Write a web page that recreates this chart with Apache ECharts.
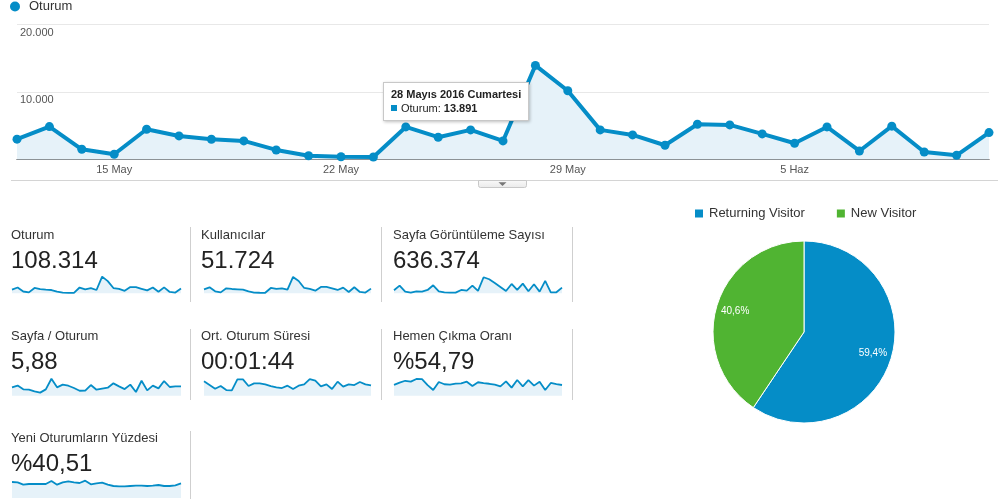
<!DOCTYPE html>
<html><head><meta charset="utf-8">
<script src="https://cdn.jsdelivr.net/npm/echarts@6/dist/echarts.min.js"></script>
<style>html,body{margin:0;padding:0;background:#fff}#c{width:999px;height:499px}</style>
</head><body><div id="c"></div><script>
// ---------- data ----------
const dates = ['12 May','13 May','14 May','15 May','16 May','17 May','18 May','19 May','20 May','21 May','22 May','23 May','24 May','25 May','26 May','27 May','28 May','29 May','30 May','31 May','1 Haz','2 Haz','3 Haz','4 Haz','5 Haz','6 Haz','7 Haz','8 Haz','9 Haz','10 Haz','11 Haz'];
const oturum = [3000,4860,1510,770,4470,3480,2990,2740,1410,560,410,370,4810,3290,4370,2740,13891,10150,4370,3630,2100,5210,5110,3780,2400,4810,1260,4920,1110,620,3970];
const kullanicilar = [2220,3330,1110,520,2780,2400,2220,2040,1100,420,300,280,2960,2400,2780,2040,9070,6850,2960,2400,1480,3520,3520,2780,1850,3150,740,3330,740,400,2590];
const sayfaGoruntuleme = [12540,32040,6970,2790,8360,6970,13930,33430,8360,4180,2790,2790,13930,11140,32040,9750,66860,58510,43180,26470,9750,39000,13930,40400,8360,37610,6970,51540,4180,4180,23680];
const sayfaOturum = [6.02,7.05,4.81,4.63,3.58,2.84,4.79,11.19,6.01,7.62,6.98,5.63,3.97,4.02,7.41,4.58,5.21,5.80,8.42,6.61,4.98,7.63,3.22,9.97,4.18,7.03,5.39,9.81,6.22,6.58,6.60];
const ortOturumSuresi = [139,106,73,97,61,58,157,157,97,121,121,112,97,85,79,100,70,100,112,160,145,94,112,70,136,91,112,106,133,112,103];
const hemenCikmaOrani = [52.3,59.1,64.8,62.2,70.1,69.7,51.8,37.2,61.0,54.3,53.1,56.2,57.0,62.1,49.2,60.3,58.0,55.8,53.2,48.1,63.0,44.2,67.1,48.0,66.8,50.2,61.9,37.1,58.2,55.0,52.1];
const yeniOturumYuzdesi = [46.8,45.8,39.0,41.0,41.0,41.0,41.0,49.7,39.0,45.8,48.8,45.8,43.9,50.7,40.0,42.9,44.9,39.0,35.1,34.1,34.1,35.1,36.1,36.1,35.1,36.1,38.0,35.1,35.1,37.1,42.9];
const metricNames = ['Oturum','Kullanıcılar','Sayfa Görüntüleme Sayısı','Sayfa / Oturum','Ort. Oturum Süresi','Hemen Çıkma Oranı','Yeni Oturumların Yüzdesi'];
const metricTotals = ['108.314','51.724','636.374','5,88','00:01:44','%54,79','%40,51'];
const sparkData = [oturum, kullanicilar, sayfaGoruntuleme, sayfaOturum, ortOturumSuresi, hemenCikmaOrani, yeniOturumYuzdesi];
const visitorTypes = ['Returning Visitor','New Visitor'];
const visitorShares = [59.4, 40.6];
const shareLabels = ['59,4%','40,6%'];
const tipTitle = '28 Mayıs 2016 Cumartesi';
const tipIndex = 16;

// ---------- layout / style ----------
const FONT = 'Arial, "Liberation Sans", sans-serif';
const BLUE = '#058dc7', GREEN = '#50b432', FILL = '#e6f2f9';
const sparkRanges = [[0,15000],[0,10000],[0,75000],[1,11.8],[10,172],[20,74],[0,52.65]];
const colText = [11, 201, 393];
const colSpark = [[12,169],[204,167],[394,168]];
const rowBase = [293.3, 395.7, 498];
const rowLabelMid = [235, 336.5, 438.2];
const rowValueMid = [261, 362.4, 464.7];

const fmt = v => String(v).replace(/\B(?=(\d{3})+(?!\d))/g, '.');

const grids = [{left:17, right:10, top:24, height:135.5}];
const xAxes = [{
  type:'category', data:dates, boundaryGap:false, gridIndex:0,
  axisLine:{lineStyle:{color:'#333', width:1}}, axisTick:{show:false},
  axisLabel:{color:'#555', fontSize:11, fontFamily:FONT, margin:5,
    interval:(i)=> i>=3 && (i-3)%7===0}
}];
const yAxes = [{
  type:'value', gridIndex:0, min:0, max:20000, interval:10000,
  axisLine:{show:false}, axisTick:{show:false},
  splitLine:{lineStyle:{color:'#e8e8e8'}},
  axisLabel:{inside:true, showMinLabel:false, margin:3, color:'#555', fontSize:11, fontFamily:FONT,
    verticalAlign:'top', padding:[3,0,0,0], formatter:v=>fmt(v)}
}];
const series = [{
  name:'Oturum', type:'line', xAxisIndex:0, yAxisIndex:0, data:oturum,
  symbol:'circle', symbolSize:9, showAllSymbol:true,
  lineStyle:{color:BLUE, width:4}, itemStyle:{color:BLUE},
  areaStyle:{color:FILL, opacity:1, origin:'start'}, z:3
}];
const graphics = [];

sparkData.forEach((d, k) => {
  const row = Math.floor(k/3), col = k%3;
  const [left, width] = colSpark[col];
  const gi = k+1;
  grids.push({left:left, width:width, top:rowBase[row]-18, height:18});
  xAxes.push({type:'category', data:dates, boundaryGap:false, gridIndex:gi, show:false});
  yAxes.push({type:'value', gridIndex:gi, min:sparkRanges[k][0], max:sparkRanges[k][1], show:false});
  series.push({
    name:'spark'+k, type:'line', xAxisIndex:gi, yAxisIndex:gi, data:d, symbol:'none',
    lineStyle:{color:BLUE, width:1.8}, areaStyle:{color:FILL, opacity:1, origin:'start'},
    tooltip:{show:false}, silent:true
  });
  graphics.push({type:'text', x:colText[col], y:rowLabelMid[row],
    style:{text:metricNames[k], fill:'#333', fontSize:13, fontFamily:FONT, align:'left', verticalAlign:'middle'}});
  graphics.push({type:'text', x:colText[col], y:rowValueMid[row],
    style:{text:metricTotals[k], fill:'#222', fontSize:24, fontFamily:FONT, align:'left', verticalAlign:'middle'}});
});

// dividers
[[190.5,227,302],[381.5,227,302],[572.5,227,302],[190.5,329,400],[381.5,329,400],[572.5,329,400],[190.5,431,499]]
  .forEach(([x,y1,y2]) => graphics.push({type:'line', shape:{x1:x,y1:y1,x2:x,y2:y2}, style:{stroke:'#cfcfcf', lineWidth:1}}));
// separator + tab
graphics.push({type:'line', shape:{x1:11,y1:180.5,x2:998,y2:180.5}, style:{stroke:'#d4d4d4', lineWidth:1}});
graphics.push({type:'rect', shape:{x:478.5,y:180.5,width:48,height:7, r:[0,0,2,2]},
  style:{fill:new echarts.graphic.LinearGradient(0,0,0,1,[{offset:0,color:'#fafafa'},{offset:1,color:'#e9e9e9'}]), stroke:'#c8c8c8', lineWidth:1}});
graphics.push({type:'polygon', shape:{points:[[498.5,182.3],[506.5,182.3],[502.5,186]]}, style:{fill:'#777'}});

// pie
series.push({
  name:'Ziyaretçi', type:'pie', center:[804,332], radius:[0,91], startAngle:90, clockwise:true,
  data: visitorTypes.map((n,i)=>({name:n, value:visitorShares[i], itemStyle:{color:[BLUE,GREEN][i]}})),
  label:{show:false}, labelLine:{show:false}, itemStyle:{borderColor:'#fff', borderWidth:1},
  tooltip:{show:false}, silent:true
});
series.push({
  name:'ZiyaretçiEtiket', type:'pie', center:[804,332], radius:[47,91], startAngle:90, clockwise:true,
  data: visitorTypes.map((n,i)=>({name:n, value:visitorShares[i]})),
  itemStyle:{color:'rgba(0,0,0,0)'}, legendHoverLink:false,
  label:{show:true, position:'inside', color:'#fff', fontSize:10, fontFamily:FONT,
    formatter:p=>shareLabels[p.dataIndex]},
  labelLine:{show:false}, tooltip:{show:false}, silent:true, emphasis:{disabled:true}
});

const chart = echarts.init(document.getElementById('c'), null, {renderer:'canvas'});
chart.setOption({
  animation:false,
  textStyle:{fontFamily:FONT},
  grid:grids, xAxis:xAxes, yAxis:yAxes, series:series, graphic:graphics,
  legend:[
    {data:['Oturum'], left:10, top:0, padding:0, icon:'circle', itemWidth:10, itemHeight:10,
     textStyle:{color:'#333', fontSize:13, fontFamily:FONT, padding:[0,0,0,4]}, selectedMode:false},
    {data:visitorTypes, left:693, top:207, padding:0, icon:'rect', itemWidth:10, itemHeight:10, itemGap:30,
     textStyle:{color:'#333', fontSize:13, fontFamily:FONT}, selectedMode:false}
  ],
  tooltip:{
    trigger:'item', triggerOn:'none', alwaysShowContent:true, transitionDuration:0,
    position:[383,82], backgroundColor:'#fff', borderColor:'#c8c8c8', borderWidth:1, padding:[5,7],
    extraCssText:'box-shadow:1px 1px 3px rgba(0,0,0,0.25);border-radius:0;line-height:13.5px;',
    textStyle:{fontSize:11, color:'#222', fontFamily:FONT},
    formatter:p=> '<div style="font-weight:bold;white-space:nowrap">'+tipTitle+'</div>'+
      '<div style="white-space:nowrap"><span style="display:inline-block;width:6px;height:6px;background:'+BLUE+';margin-right:4px;vertical-align:1px"></span>Oturum: <b>'+fmt(p.value)+'</b></div>'
  }
});
chart.dispatchAction({type:'showTip', seriesIndex:0, dataIndex:tipIndex});
</script></body></html>
